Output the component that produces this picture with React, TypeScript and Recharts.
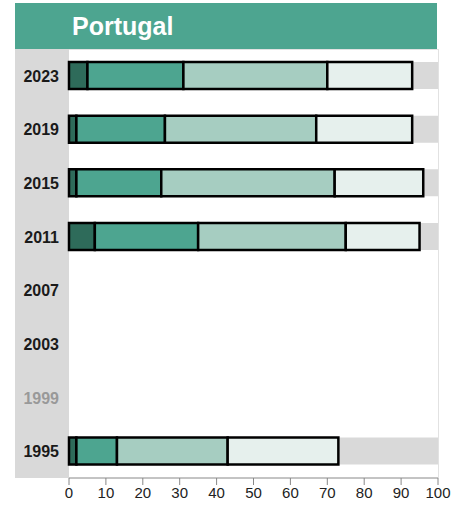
import { BarChart, Bar, XAxis, YAxis } from 'recharts'

const years = ['2023', '2019', '2015', '2011', '2007', '2003', '1999', '1995']
const levelA = [5, 2, 2, 7, null, null, null, 2]
const levelB = [26, 24, 23, 28, null, null, null, 11]
const levelC = [39, 41, 47, 40, null, null, null, 30]
const levelD = [23, 26, 24, 20, null, null, null, 30]
const xTicks = [0, 10, 20, 30, 40, 50, 60, 70, 80, 90, 100]
const mutedYears = ['1999']

const data = years.map((year, i) => ({
  year,
  a: levelA[i],
  b: levelB[i],
  c: levelC[i],
  d: levelD[i],
}))

const colors = ['#2e6b5a', '#4da590', '#a6cdc1', '#e6f0ed']
const font = '"Liberation Sans", Arial, sans-serif'

function YearTick({ x, y, payload }: any) {
  const muted = mutedYears.includes(payload.value)
  return (
    <text
      x={x - 2}
      y={y}
      dy={6}
      textAnchor="end"
      fontFamily={font}
      fontSize={16}
      fontWeight="bold"
      fill={muted ? '#999999' : '#1a1a1a'}
    >
      {payload.value}
    </text>
  )
}

export default function App() {
  return (
    <div style={{ position: 'absolute', left: 0, top: 0, width: 468, height: 517, background: '#fff' }}>
      <div
        style={{
          position: 'absolute',
          left: 15,
          top: 3,
          width: 422,
          height: 46,
          background: '#4da590',
          color: '#fff',
          fontFamily: font,
          fontWeight: 'bold',
          fontSize: 25,
          lineHeight: '46px',
          paddingLeft: 57,
          boxSizing: 'border-box',
        }}
      >
        Portugal
      </div>
      <div style={{ position: 'absolute', left: 15, top: 49, width: 54, height: 429, background: '#d9d9d9' }} />
      <div
        style={{
          position: 'absolute',
          left: 69,
          top: 49,
          width: 370,
          height: 429,
          borderTop: '1px solid #e2e2e2',
          borderRight: '1px solid #e2e2e2',
          boxSizing: 'border-box',
        }}
      />
      <div style={{ position: 'absolute', left: 0, top: 0 }}>
        <BarChart
          width={468}
          height={517}
          data={data}
          layout="vertical"
          margin={{ top: 49, right: 30, bottom: 9, left: 15 }}
          barCategoryGap={0}
        >
          <XAxis
            type="number"
            domain={[0, 100]}
            ticks={xTicks}
            interval={0}
            height={30}
            axisLine={{ stroke: '#888888' }}
            tickLine={{ stroke: '#888888' }}
            tickSize={7}
            tick={{ fontFamily: font, fontSize: 15, fill: '#222222' }}
          />
          <YAxis
            type="category"
            dataKey="year"
            width={54}
            axisLine={false}
            tickLine={false}
            tick={<YearTick />}
          />
          <Bar dataKey="a" stackId="s" fill={colors[0]} stroke="#000" strokeWidth={2.5} barSize={27} background={{ fill: '#d9d9d9' }} isAnimationActive={false} />
          <Bar dataKey="b" stackId="s" fill={colors[1]} stroke="#000" strokeWidth={2.5} barSize={27} isAnimationActive={false} />
          <Bar dataKey="c" stackId="s" fill={colors[2]} stroke="#000" strokeWidth={2.5} barSize={27} isAnimationActive={false} />
          <Bar dataKey="d" stackId="s" fill={colors[3]} stroke="#000" strokeWidth={2.5} barSize={27} isAnimationActive={false} />
        </BarChart>
      </div>
    </div>
  )
}
